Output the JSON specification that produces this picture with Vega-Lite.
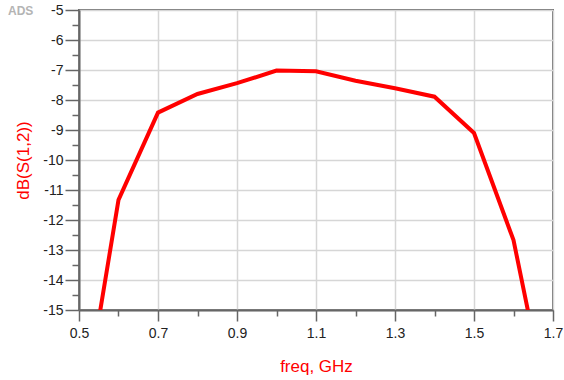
{
  "$schema": "https://vega.github.io/schema/vega-lite/v6.json",
  "width": 474,
  "height": 300,
  "autosize": {"type": "none"},
  "padding": {"left": 79, "top": 10, "right": 11, "bottom": 70},
  "background": "white",
  "config": {
    "font": "Liberation Sans",
    "view": {"stroke": "#6e6e6e", "strokeWidth": 2}
  },
  "title": {
    "text": "ADS",
    "anchor": "start",
    "frame": "group",
    "offset": 0,
    "dx": -71,
    "dy": 15,
    "fontSize": 12,
    "fontWeight": "bold",
    "color": "#b4b4b4"
  },
  "data": {
    "values": [
      {"freq": 0.5, "s12": -19.3},
      {"freq": 0.6, "s12": -11.33},
      {"freq": 0.7, "s12": -8.42},
      {"freq": 0.8, "s12": -7.8},
      {"freq": 0.9, "s12": -7.44},
      {"freq": 1.0, "s12": -7.02},
      {"freq": 1.1, "s12": -7.04},
      {"freq": 1.2, "s12": -7.36},
      {"freq": 1.3, "s12": -7.61},
      {"freq": 1.4, "s12": -7.89},
      {"freq": 1.5, "s12": -9.1},
      {"freq": 1.6, "s12": -12.67},
      {"freq": 1.7, "s12": -19.1}
    ]
  },
  "mark": {"type": "line", "color": "#ff0000", "strokeWidth": 4, "clip": true},
  "encoding": {
    "x": {
      "field": "freq",
      "type": "quantitative",
      "scale": {"domain": [0.5, 1.7], "nice": false, "zero": false},
      "axis": {
        "values": [0.5, 0.6, 0.7, 0.8, 0.9, 1.0, 1.1, 1.2, 1.3, 1.4, 1.5, 1.6, 1.7],
        "labelExpr": "round(datum.value * 10) % 2 == 1 ? (datum.value == 1 ? '1.0' : '' + datum.value) : ''",
        "tickSize": {"condition": {"test": "round(datum.value * 10) % 2 == 1", "value": 11}, "value": 6},
        "gridOpacity": {"condition": {"test": "round(datum.value * 10) % 2 == 1", "value": 1}, "value": 0},
        "gridColor": "#d6d6d6",
        "gridWidth": 1.5,
        "domainColor": "#666666",
        "domainWidth": 2,
        "tickColor": "#666666",
        "tickWidth": 1.5,
        "labelFontSize": 14,
        "labelColor": "#222222",
        "labelPadding": 5,
        "labelFlush": false,
        "labelOverlap": false,
        "labelBound": false,
        "title": "freq, GHz",
        "titleColor": "#ff0000",
        "titleFontSize": 17,
        "titleFontWeight": "normal",
        "titlePadding": 18
      }
    },
    "y": {
      "field": "s12",
      "type": "quantitative",
      "scale": {"domain": [-15, -5], "nice": false, "zero": false},
      "axis": {
        "values": [-15, -14.5, -14, -13.5, -13, -12.5, -12, -11.5, -11, -10.5, -10, -9.5, -9, -8.5, -8, -7.5, -7, -6.5, -6, -5.5, -5],
        "labelExpr": "datum.value % 1 == 0 ? '' + datum.value : ''",
        "tickSize": {"condition": {"test": "datum.value % 1 == 0", "value": 14}, "value": 7},
        "gridOpacity": {"condition": {"test": "datum.value % 1 == 0", "value": 1}, "value": 0},
        "gridColor": "#d6d6d6",
        "gridWidth": 1.5,
        "domainColor": "#666666",
        "domainWidth": 2,
        "tickColor": "#666666",
        "tickWidth": 1.5,
        "labelFontSize": 14,
        "labelColor": "#222222",
        "labelPadding": 2,
        "labelOverlap": false,
        "labelBound": false,
        "labelFlush": false,
        "title": "dB(S(1,2))",
        "titleColor": "#ff0000",
        "titleFontSize": 17,
        "titleFontWeight": "normal",
        "titlePadding": 10
      }
    }
  }
}
